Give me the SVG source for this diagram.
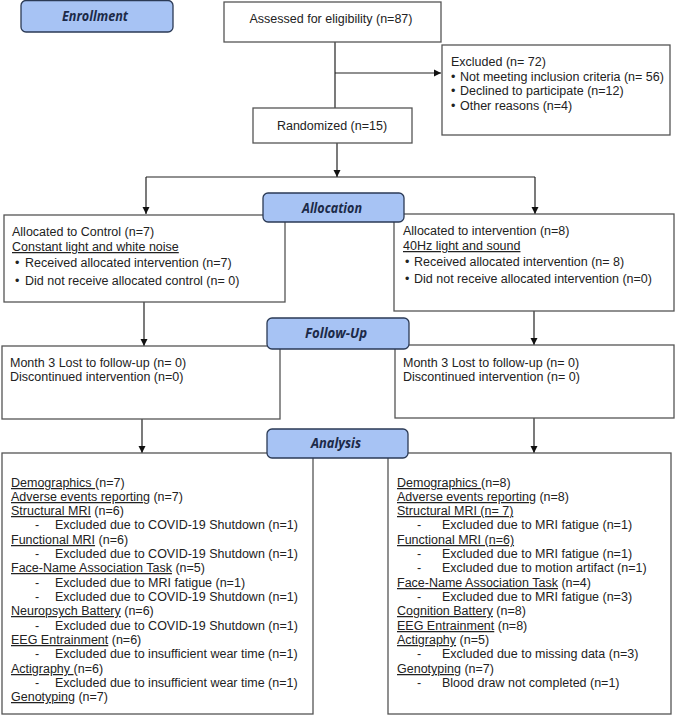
<svg xmlns="http://www.w3.org/2000/svg" width="676" height="716" viewBox="0 0 676 716">
<style>
.box{fill:#fff;stroke:#555;stroke-width:1.3}
.hdr{fill:#a7c3f4;stroke:#2b3a55;stroke-width:1.3}
.ht{font-family:"Open Sans","Noto Sans",sans-serif;font-weight:bold;font-style:italic;font-size:14px;fill:#1c2a48;text-anchor:middle}
.t{font-family:"Liberation Sans",Arial,sans-serif;font-size:12.5px;fill:#222}
.u{text-decoration:underline}
.ln{stroke:#222;stroke-width:1.2;fill:none}
</style>
<defs>
<marker id="ar" markerWidth="8" markerHeight="8" refX="7" refY="4" orient="auto" markerUnits="userSpaceOnUse">
<path d="M0,0.5 L7,4 L0,7.5 z" fill="#111"/>
</marker>
</defs>
<rect width="676" height="716" fill="#fff"/>
<g id="connectors">
<path class="ln" d="M335,42 V108"/>
<path class="ln" d="M335,73 H441" marker-end="url(#ar)"/>
<path class="ln" d="M337,143 V177" marker-end="url(#ar)"/>
<path class="ln" d="M146,177 H535"/>
<path class="ln" d="M146,177 V214" marker-end="url(#ar)"/>
<path class="ln" d="M535,177 V214" marker-end="url(#ar)"/>
<path class="ln" d="M144,302 V346" marker-end="url(#ar)"/>
<path class="ln" d="M534,311 V345" marker-end="url(#ar)"/>
<path class="ln" d="M142,419 V453" marker-end="url(#ar)"/>
<path class="ln" d="M534,418 V453" marker-end="url(#ar)"/>
</g>
<g id="assessed">
<rect class="box" x="224" y="2" width="217" height="40"/>
<text class="t" x="331" y="23" text-anchor="middle">Assessed for eligibility (n=87)</text>
</g>
<g id="excluded">
<rect class="box" x="442" y="45" width="228" height="90"/>
<text class="t" x="451" y="66">Excluded (n= 72)</text>
<text class="t" x="451" y="81">•<tspan x="460">Not meeting inclusion criteria (n= 56)</tspan></text>
<text class="t" x="451" y="95">•<tspan x="460">Declined to participate (n=12)</tspan></text>
<text class="t" x="451" y="110">•<tspan x="460">Other reasons (n=4)</tspan></text>
</g>
<g id="randomized">
<rect class="box" x="253" y="108" width="159" height="35"/>
<text class="t" x="332" y="130" text-anchor="middle">Randomized (n=15)</text>
</g>
<g id="control">
<rect class="box" x="4" y="215" width="281" height="87"/>
<text class="t" x="12" y="236">Allocated to Control (n=7)</text>
<text class="t u" x="12" y="251">Constant light and white noise</text>
<text class="t" x="15" y="267">•<tspan x="25">Received allocated intervention (n=7)</tspan></text>
<text class="t" x="15" y="285">•<tspan x="25">Did not receive allocated control (n= 0)</tspan></text>
</g>
<g id="intervention">
<rect class="box" x="394" y="214" width="280" height="97"/>
<text class="t" x="403" y="235">Allocated to intervention (n=8)</text>
<text class="t u" x="403" y="250">40Hz light and sound</text>
<text class="t" x="405" y="266">•<tspan x="414">Received allocated intervention (n= 8)</tspan></text>
<text class="t" x="405" y="283">•<tspan x="414">Did not receive allocated intervention (n=0)</tspan></text>
</g>
<g id="followup-control">
<rect class="box" x="2" y="346" width="278" height="73"/>
<text class="t" x="10" y="367">Month 3 Lost to follow-up (n= 0)</text>
<text class="t" x="10" y="381">Discontinued intervention (n=0)</text>
</g>
<g id="followup-intervention">
<rect class="box" x="395" y="345" width="279" height="73"/>
<text class="t" x="403" y="367">Month 3 Lost to follow-up (n= 0)</text>
<text class="t" x="403" y="381">Discontinued intervention (n= 0)</text>
</g>
<g id="analysis-control">
<rect class="box" x="2" y="453" width="311" height="261"/>
<text class="t" x="11" y="487"><tspan class="u">Demographics </tspan>(n=7)</text>
<text class="t" x="11" y="501"><tspan class="u">Adverse events reporting</tspan> (n=7)</text>
<text class="t" x="11" y="515"><tspan class="u">Structural MRI</tspan> (n=6)</text>
<text class="t" x="35" y="529">-<tspan x="55">Excluded due to COVID-19 Shutdown (n=1)</tspan></text>
<text class="t" x="11" y="544"><tspan class="u">Functional MRI</tspan> (n=6)</text>
<text class="t" x="35" y="558">-<tspan x="55">Excluded due to COVID-19 Shutdown (n=1)</tspan></text>
<text class="t" x="11" y="572"><tspan class="u">Face-Name Association Task</tspan> (n=5)</text>
<text class="t" x="35" y="587">-<tspan x="55">Excluded due to MRI fatigue (n=1)</tspan></text>
<text class="t" x="35" y="601">-<tspan x="55">Excluded due to COVID-19 Shutdown (n=1)</tspan></text>
<text class="t" x="11" y="615"><tspan class="u">Neuropsych Battery</tspan> (n=6)</text>
<text class="t" x="35" y="630">-<tspan x="55">Excluded due to COVID-19 Shutdown (n=1)</tspan></text>
<text class="t" x="11" y="644"><tspan class="u">EEG Entrainment</tspan> (n=6)</text>
<text class="t" x="35" y="658">-<tspan x="55">Excluded due to insufficient wear time (n=1)</tspan></text>
<text class="t" x="11" y="673"><tspan class="u">Actigraphy </tspan>(n=6)</text>
<text class="t" x="35" y="687">-<tspan x="55">Excluded due to insufficient wear time (n=1)</tspan></text>
<text class="t" x="11" y="701"><tspan class="u">Genotyping</tspan> (n=7)</text>
</g>
<g id="analysis-intervention">
<rect class="box" x="388" y="453" width="283" height="261"/>
<text class="t" x="397" y="487"><tspan class="u">Demographics </tspan>(n=8)</text>
<text class="t" x="397" y="501"><tspan class="u">Adverse events reporting</tspan> (n=8)</text>
<text class="t u" x="397" y="515">Structural MRI (n= 7)</text>
<text class="t" x="417" y="529">-<tspan x="442">Excluded due to MRI fatigue (n=1)</tspan></text>
<text class="t u" x="397" y="544">Functional MRI (n=6)</text>
<text class="t" x="417" y="558">-<tspan x="442">Excluded due to MRI fatigue (n=1)</tspan></text>
<text class="t" x="417" y="572">-<tspan x="442">Excluded due to motion artifact (n=1)</tspan></text>
<text class="t" x="397" y="587"><tspan class="u">Face-Name Association Task</tspan> (n=4)</text>
<text class="t" x="417" y="601">-<tspan x="442">Excluded due to MRI fatigue (n=3)</tspan></text>
<text class="t" x="397" y="615"><tspan class="u">Cognition Battery</tspan> (n=8)</text>
<text class="t" x="397" y="630"><tspan class="u">EEG Entrainment</tspan> (n=8)</text>
<text class="t" x="397" y="644"><tspan class="u">Actigraphy</tspan> (n=5)</text>
<text class="t" x="417" y="658">-<tspan x="442">Excluded due to missing data (n=3)</tspan></text>
<text class="t" x="397" y="673"><tspan class="u">Genotyping</tspan> (n=7)</text>
<text class="t" x="417" y="687">-<tspan x="442">Blood draw not completed (n=1)</tspan></text>
</g>
<g id="enrollment">
<rect class="hdr" x="21" y="0.5" width="152" height="31.5" rx="5"/>
<text class="ht" x="95" y="21" textLength="66" lengthAdjust="spacingAndGlyphs">Enrollment</text>
</g>
<g id="allocation">
<rect class="hdr" x="263" y="193" width="141" height="29" rx="5"/>
<text class="ht" x="332" y="213" textLength="60" lengthAdjust="spacingAndGlyphs">Allocation</text>
</g>
<g id="followup">
<rect class="hdr" x="267" y="318" width="142" height="31" rx="5"/>
<text class="ht" x="336" y="338" textLength="62" lengthAdjust="spacingAndGlyphs">Follow-Up</text>
</g>
<g id="analysis">
<rect class="hdr" x="267" y="429" width="141" height="29" rx="5"/>
<text class="ht" x="336" y="448" textLength="50" lengthAdjust="spacingAndGlyphs">Analysis</text>
</g>
</svg>
